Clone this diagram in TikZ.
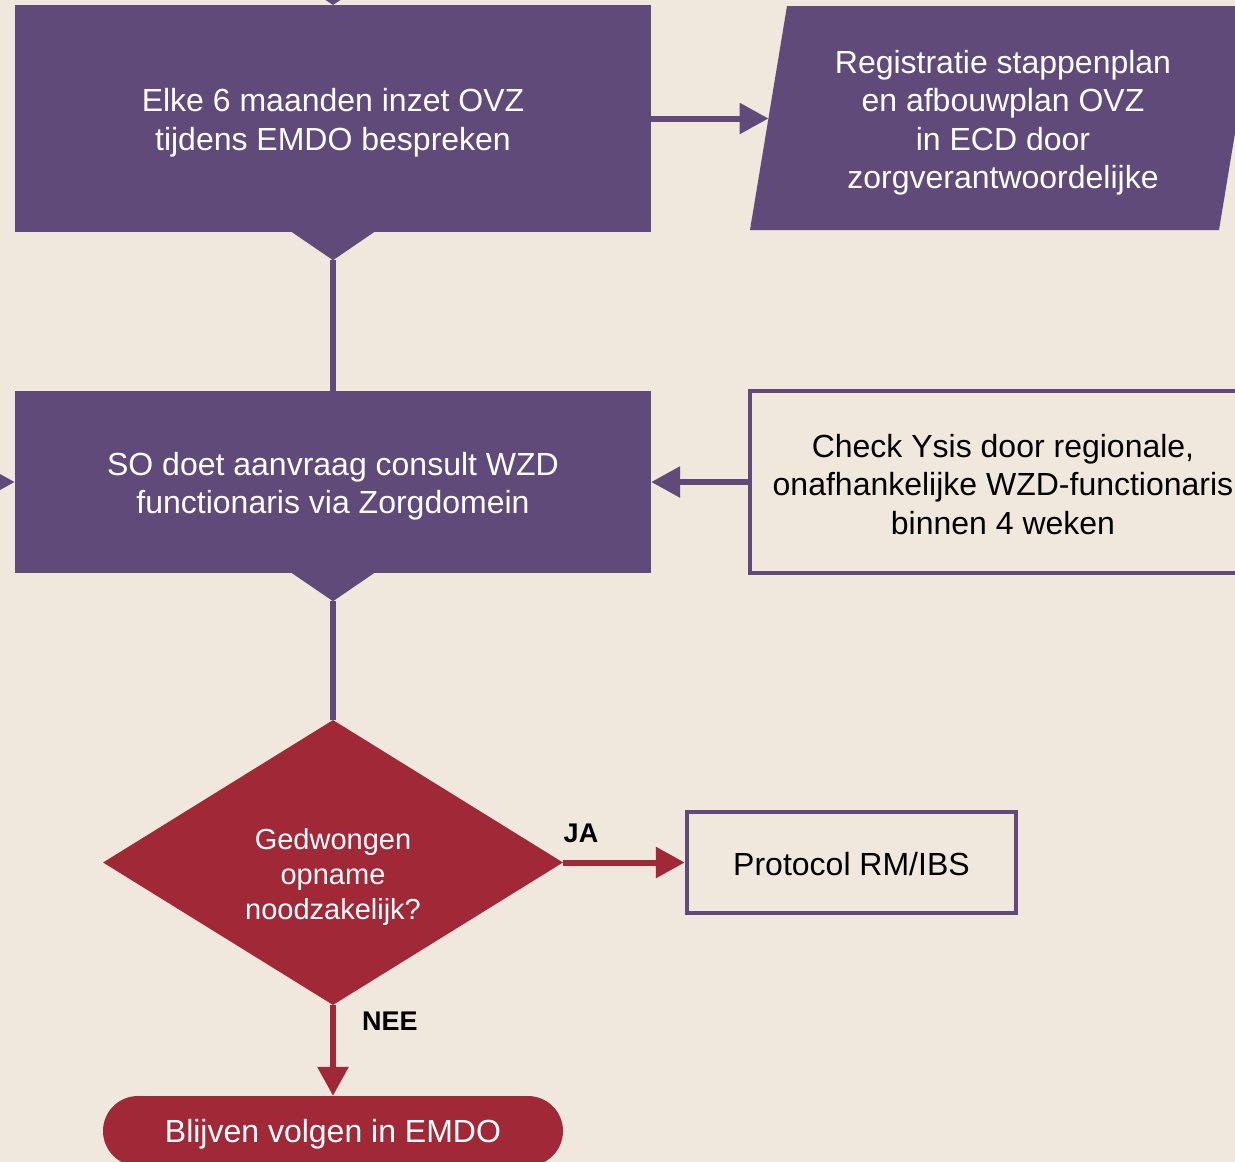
\documentclass[tikz,border=0pt]{standalone}
\usepackage{fontspec}
\setmainfont{Liberation Sans}
\usetikzlibrary{arrows.meta,shapes.geometric}
\definecolor{paper}{RGB}{240,232,220}
\definecolor{plum}{RGB}{96,74,122}
\definecolor{wine}{RGB}{160,40,55}
\newcommand\flowfont{\fontsize{32}{38.5}\selectfont}
\newcommand\decfont{\fontsize{29}{35}\selectfont}
\newcommand\tagfont{\bfseries\fontsize{27}{32}\selectfont}

\begin{document}
\begin{tikzpicture}[x=1pt,y=-1pt,
  stepbox/.style={rectangle, fill=plum, inner sep=0pt},
  outlinebox/.style={rectangle, draw=plum, line width=4.5pt, fill=paper, inner sep=0pt},
  whitetext/.style={text=white, align=center, inner sep=0pt, font=\flowfont},
  blacktext/.style={text=black, align=center, inner sep=0pt, font=\flowfont},
  plumline/.style={draw=plum, line width=6pt},
  plumarrow/.style={plumline, -{Triangle[length=29pt,width=30pt]}},
  winearrow/.style={draw=wine, line width=6pt, -{Triangle[length=29pt,width=30pt]}},
  tag/.style={text=black, inner sep=0pt, font=\tagfont}
]
\useasboundingbox (0,0) rectangle (1235,1162);
\clip (0,0) rectangle (1235,1162);
\fill[paper] (0,0) rectangle (1235,1162);

% tab of the step above
\fill[plum] (291.7,-23) -- (374.3,-23) -- (333,5) -- cycle;

% step: every six months
\node[stepbox, minimum width=636pt, minimum height=227pt] (ovz) at (333,118.5) {};
\node[whitetext] (ovztext) at ([yshift=-4pt]ovz.center)
  {Elke 6 maanden inzet OVZ\\tijdens EMDO bespreken};
\fill[plum] ([xshift=-41pt]ovz.south) -- ([yshift=-28pt]ovz.south) coordinate (ovztip)
  -- ([xshift=41pt]ovz.south) -- cycle;

% registration (parallelogram)
\fill[plum] (787,6) -- (1256,6) -- (1219,230) -- (750,230) -- cycle;
\coordinate (regin) at (768.5,118.5);
\node[whitetext] (reg) at (1003,122.5)
  {Registratie stappenplan\\en afbouwplan OVZ\\in ECD door\\zorgverantwoordelijke};
\draw[plumarrow] (ovz.east) -- (regin);

% step: consult request
\node[stepbox, minimum width=636pt, minimum height=182pt] (so) at (333,482) {};
\node[whitetext] (sotext) at ([yshift=-4pt]so.center)
  {SO doet aanvraag consult WZD\\functionaris via Zorgdomein};
\fill[plum] ([xshift=-41pt]so.south) -- ([yshift=-28pt]so.south) coordinate (sotip)
  -- ([xshift=41pt]so.south) -- cycle;
\draw[plumline] (ovztip) -- (so.north);
\coordinate (offleft) at (-40,482);
\draw[plumarrow] (offleft) -- (so.west);

% check by the WZD officer
\node[outlinebox, minimum width=506pt, minimum height=182pt] (chk) at (1003,482) {};
\node[blacktext] (chktext) at ([yshift=-2.5pt]chk.center)
  {Check Ysis door regionale,\\onafhankelijke WZD-functionaris\\binnen 4 weken};
\draw[plumarrow] (chk.west) -- (so.east);

% decision
\node[diamond, fill=wine, inner sep=0pt, minimum width=460pt, minimum height=285pt,
  aspect=1.614] (dec) at (333,862.5) {};
\node[whitetext, font=\decfont] (dectext) at (333,877)
  {Gedwongen\\opname\\noodzakelijk?};
\draw[plumline] (sotip) -- (dec.north);

% yes branch
\node[outlinebox, minimum width=329pt, minimum height=101pt] (prot) at (851.5,862.5) {};
\node[blacktext] (prottext) at ([yshift=-2pt]prot.center) {Protocol RM/IBS};
\draw[winearrow] (dec.east) -- (prot.west);
\node[tag] (ja) at (581,833) {JA};

% no branch
\node[rectangle, fill=wine, rounded corners=35pt, minimum width=460pt, minimum height=70pt,
  inner sep=0pt] (term) at (333,1131) {};
\node[whitetext] (termtext) at ([yshift=-3pt]term.center) {Blijven volgen in EMDO};
\draw[winearrow] (dec.south) -- (term.north);
\node[tag] (nee) at (390,1021) {NEE};
\end{tikzpicture}
\end{document}
